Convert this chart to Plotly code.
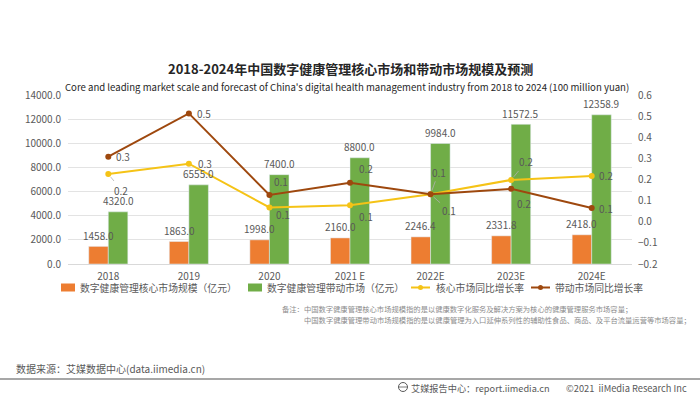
import plotly.graph_objects as go

# ---------------- data ----------------
years = ["2018", "2019", "2020", "2021 E", "2022E", "2023E", "2024E"]
core_market = [1458.0, 1863.0, 1998.0, 2160.0, 2246.4, 2331.8, 2418.0]
leading_market = [4320.0, 6555.0, 7400.0, 8800.0, 9984.0, 11572.5, 12358.9]
core_growth = [0.226, 0.275, 0.068, 0.078, 0.130, 0.198, 0.217]
leading_growth = [0.308, 0.513, 0.127, 0.185, 0.130, 0.156, 0.065]
left_ticks = [0, 2000, 4000, 6000, 8000, 10000, 12000, 14000]
right_ticks = [-0.2, -0.1, 0.0, 0.1, 0.2, 0.3, 0.4, 0.5, 0.6]

series_names = ["数字健康管理核心市场规模（亿元）", "数字健康管理带动市场（亿元）",
                "核心市场同比增长率", "带动市场同比增长率"]
title_cn = "2018-2024年中国数字健康管理核心市场和带动市场规模及预测"
title_en = ("Core and leading market scale and forecast of China's digital health "
            "management industry from 2018 to 2024 (100 million yuan)")
note_lines = ["备注：中国数字健康管理核心市场规模指的是以健康数字化服务及解决方案为核心的健康管理服务市场容量；",
              "中国数字健康管理带动市场规模指的是以健康管理为入口延伸系列性的辅助性食品、商品、及平台流量运营等市场容量；"]
source_text = "数据来源：艾媒数据中心(data.iimedia.cn)"
footer_left = "艾媒报告中心：report.iimedia.cn"
footer_right = "©2021  iiMedia Research Inc"

# ---------------- style ----------------
FONT = "Noto Sans CJK SC"
GREY = "#595959"
ORANGE = "#ED7D31"
GREEN = "#70AD47"
YELLOW = "#F5C316"
BROWN = "#9E480E"

W, H = 700, 396
L, R, T, B = 68, 632, 95, 264
BARGAP = 0.515
n_cat = len(years)
bar_px = (R - L) / n_cat * (1 - BARGAP) / 2


def px(x):
    return (x - L) / (R - L)


def py(y):
    return (B - y) / (B - T)


fig = go.Figure()

fig.add_trace(go.Bar(x=years, y=core_market, name=series_names[0], marker_color=ORANGE))
fig.add_trace(go.Bar(x=years, y=leading_market, name=series_names[1], marker_color=GREEN))
fig.add_trace(go.Scatter(
    x=years, y=core_growth, name=series_names[2], yaxis="y2", mode="lines+markers",
    line=dict(color=YELLOW, width=2), marker=dict(size=6, color=YELLOW), cliponaxis=False,
))
fig.add_trace(go.Scatter(
    x=years, y=leading_growth, name=series_names[3], yaxis="y2", mode="lines+markers",
    line=dict(color=BROWN, width=2), marker=dict(size=6, color=BROWN), cliponaxis=False,
))

annotations = []
# bar value labels (drawn on top so the orange ones stay readable over green bars)
for vals, sgn in ((core_market, -1), (leading_market, 1)):
    for i, v in enumerate(vals):
        annotations.append(dict(
            x=i, y=v, xref="x", yref="y", text=f"{v:.1f}", showarrow=False,
            xanchor="center", yanchor="middle", xshift=sgn * bar_px / 2, yshift=11,
            font=dict(size=10, color=GREY, family=FONT)))

# line data labels: label centre offset from point in px (right, down) and leader flag
core_off = [(13, 16, True), (16, 0, False), (14, 7, False), (16, 11, False),
            (8, -22, True), (15, -18, True), (14, 0, False)]
lead_off = [(15, 0, False), (15, 0, False), (12, -13, False), (16, -14, False),
            (18, 16, True), (13, 15, False), (14, 0, False)]
for vals, offs in ((core_growth, core_off), (leading_growth, lead_off)):
    for i, (v, (dx, dy, leader)) in enumerate(zip(vals, offs)):
        if leader:
            annotations.append(dict(
                x=i, y=v, xref="x", yref="y2", text=f"{v:.1f}", showarrow=True,
                ax=dx, ay=dy, arrowhead=0, arrowwidth=0.8, arrowcolor="#B0B0B0", standoff=4,
                xanchor="center", yanchor="middle",
                font=dict(size=10, color=GREY, family=FONT)))
        else:
            annotations.append(dict(
                x=i, y=v, xref="x", yref="y2", text=f"{v:.1f}", showarrow=False,
                xanchor="center", yanchor="middle", xshift=dx, yshift=-dy,
                font=dict(size=10, color=GREY, family=FONT)))

# titles
annotations.append(dict(x=px(350), y=py(68), xref="paper", yref="paper", text=f"<b>{title_cn}</b>",
                        showarrow=False, xanchor="center", yanchor="middle",
                        font=dict(size=13, color="#262626", family=FONT)))
annotations.append(dict(x=px(347), y=py(86.5), xref="paper", yref="paper", text=title_en,
                        showarrow=False, xanchor="center", yanchor="middle",
                        font=dict(size=9.6, color="#262626", family=FONT)))

# manual legend
shapes = []
leg_y = 287.5
legend_items = [
    ("rect", ORANGE, 61, 78, series_names[0]),
    ("rect", GREEN, 248, 265, series_names[1]),
    ("line", YELLOW, 411, 434, series_names[2]),
    ("line", BROWN, 531, 553, series_names[3]),
]
for kind, col, x0, xt, label in legend_items:
    if kind == "rect":
        shapes.append(dict(type="rect", xref="paper", yref="paper", x0=px(x0), x1=px(x0 + 14),
                           y0=py(leg_y + 4), y1=py(leg_y - 4), fillcolor=col, line=dict(width=0)))
    else:
        shapes.append(dict(type="line", xref="paper", yref="paper", x0=px(x0), x1=px(x0 + 19),
                           y0=py(leg_y), y1=py(leg_y), line=dict(color=col, width=2)))
        shapes.append(dict(type="circle", xref="paper", yref="paper", x0=px(x0 + 7), x1=px(x0 + 12),
                           y0=py(leg_y + 2.5), y1=py(leg_y - 2.5), fillcolor=col, line=dict(width=0)))
    annotations.append(dict(x=px(xt), y=py(leg_y), xref="paper", yref="paper", text=label,
                            showarrow=False, xanchor="left", yanchor="middle",
                            font=dict(size=9.8, color=GREY, family=FONT)))

# notes
annotations.append(dict(x=px(280), y=py(309), xref="paper", yref="paper", text=note_lines[0],
                        showarrow=False, xanchor="left", yanchor="middle",
                        font=dict(size=7.3, color="#8c8c8c", family=FONT)))
annotations.append(dict(x=px(302), y=py(319.5), xref="paper", yref="paper", text=note_lines[1],
                        showarrow=False, xanchor="left", yanchor="middle",
                        font=dict(size=7.3, color="#8c8c8c", family=FONT)))
# source and footer
annotations.append(dict(x=px(14), y=py(368), xref="paper", yref="paper", text=source_text,
                        showarrow=False, xanchor="left", yanchor="middle",
                        font=dict(size=10, color=GREY, family=FONT)))
shapes.append(dict(type="line", xref="paper", yref="paper", x0=px(0), x1=px(700),
                   y0=py(379), y1=py(379), line=dict(color="#8a8a8a", width=1.5)))
annotations.append(dict(x=px(409), y=py(387.5), xref="paper", yref="paper", text=footer_left,
                        showarrow=False, xanchor="left", yanchor="middle",
                        font=dict(size=9.2, color=GREY, family=FONT)))
annotations.append(dict(x=px(689), y=py(387.5), xref="paper", yref="paper", text=footer_right,
                        showarrow=False, xanchor="right", yanchor="middle",
                        font=dict(size=9.3, color=GREY, family=FONT)))
shapes.append(dict(type="circle", xref="paper", yref="paper", x0=px(398.5), x1=px(407.5),
                   y0=py(391.5), y1=py(382.5), line=dict(color=GREY, width=1)))
shapes.append(dict(type="line", xref="paper", yref="paper", x0=px(398.5), x1=px(407.5),
                   y0=py(387), y1=py(387), line=dict(color=GREY, width=0.8)))

fig.update_layout(
    width=W, height=H,
    margin=dict(l=L, r=W - R, t=T, b=H - B, pad=0),
    paper_bgcolor="white", plot_bgcolor="white",
    barmode="group", bargap=BARGAP, bargroupgap=0,
    showlegend=False,
    font=dict(family=FONT, size=10, color=GREY),
    xaxis=dict(type="category", range=[-0.5, n_cat - 0.5], showgrid=False, showline=True,
               linecolor="#D9D9D9", linewidth=1,
               ticks="", tickfont=dict(size=10, color=GREY, family=FONT), ticklabelstandoff=3),
    yaxis=dict(range=[0, 14000], tickvals=left_ticks, tickformat=".1f", showgrid=True,
               gridcolor="#E3E3E3", gridwidth=1, zeroline=False, ticks="",
               tickfont=dict(size=10, color=GREY, family=FONT), ticklabelstandoff=6),
    yaxis2=dict(range=[-0.2, 0.6], tickvals=right_ticks, tickformat=".1f", overlaying="y",
                side="right", showgrid=False, zeroline=False, ticks="",
                tickfont=dict(size=10, color=GREY, family=FONT), ticklabelstandoff=5),
    annotations=annotations,
    shapes=shapes,
)

fig.write_html("out.html", config={"displayModeBar": False},
               post_script="document.body.style.margin='0';document.body.style.padding='0';")
